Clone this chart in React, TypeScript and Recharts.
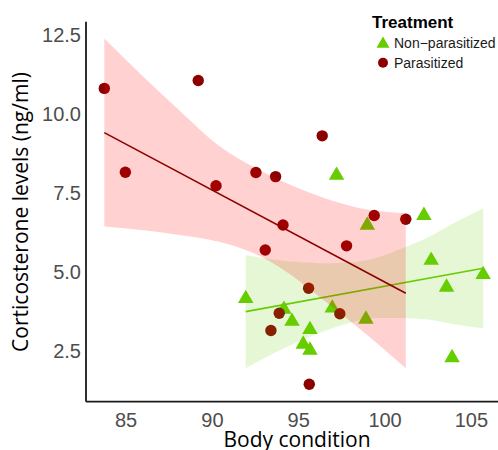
import { ComposedChart, XAxis, YAxis, Scatter, Area, Line } from 'recharts';

const xTicks = [85, 90, 95, 100, 105];
const yTicks = [2.5, 5, 7.5, 10, 12.5];

// points
const parasitizedX = [83.74, 84.96, 89.18, 90.21, 92.52, 93.66, 96.36, 94.09, 93.06, 97.77, 99.37, 101.2, 95.57, 93.87, 97.38, 93.39, 95.61];
const parasitizedY = [10.81, 8.16, 11.06, 7.73, 8.15, 8.02, 9.31, 6.49, 5.7, 5.83, 6.79, 6.67, 4.49, 3.7, 3.68, 3.15, 1.45];
const nonParX = [91.93, 94.14, 94.61, 95.65, 95.26, 95.65, 96.94, 97.19, 98.97, 98.89, 102.25, 102.67, 103.56, 105.68, 103.88];
const nonParY = [4.16, 3.82, 3.44, 3.18, 2.72, 2.53, 3.86, 8.06, 6.48, 3.51, 6.79, 5.37, 4.52, 4.92, 2.29];

// fitted lines (end points) and confidence bands
const parFitX = [83.74, 101.2];
const parFitY = [9.41, 4.33];
const nonFitX = [91.93, 105.68];
const nonFitY = [3.75, 5.12];

const parBandX = [83.74, 86, 88, 90.44, 92.37, 94.3, 96.23, 98.54, 101.2];
const parBandLo = [6.44, 6.32, 6.18, 5.95, 5.6, 5.0, 4.2, 3.2, 1.96];
const parBandHi = [12.39, 11.18, 10.16, 8.97, 8.33, 7.81, 7.39, 7.02, 6.86];
const nonBandX = [91.93, 93.5, 95, 96.5, 98, 99.5, 101, 102.5, 104, 105.68];
const nonBandLo = [1.96, 2.42, 2.8, 3.14, 3.4, 3.55, 3.55, 3.5, 3.35, 3.22];
const nonBandHi = [5.54, 5.4, 5.32, 5.28, 5.3, 5.45, 5.75, 6.1, 6.55, 7.02];

const RED = '#8B0000';
const GREEN = '#66CD00';

const toPoints = (xs: number[], ys: number[]) => xs.map((x, i) => ({ x, y: ys[i] }));
const toBand = (xs: number[], lo: number[], hi: number[]) =>
  xs.map((x, i) => ({ x, lo: lo[i], hi: hi[i] }));

const parasitized = toPoints(parasitizedX, parasitizedY);
const nonParasitized = toPoints(nonParX, nonParY);
const parFit = toPoints(parFitX, parFitY);
const nonFit = toPoints(nonFitX, nonFitY);
const parBand = toBand(parBandX, parBandLo, parBandHi);
const nonBand = toBand(nonBandX, nonBandLo, nonBandHi);

const SIDE = 15.5;
function trianglePath(cx: number, cy: number, side = SIDE) {
  const h = (side * Math.sqrt(3)) / 2;
  return `M${cx},${cy - (2 * h) / 3} L${cx + side / 2},${cy + h / 3} L${cx - side / 2},${cy + h / 3} Z`;
}

const Triangle = (props: any) => <path d={trianglePath(props.cx, props.cy)} fill={GREEN} />;
const Dot = (props: any) => <circle cx={props.cx} cy={props.cy} r={5.7} fill={RED} />;

const tickStyle = { fill: '#4D4D4D', fontSize: 20, fontFamily: '"Liberation Sans", Arial, sans-serif' };
const titleFont = '"Open Sans", sans-serif';
const legendFont = '"Liberation Sans", Arial, sans-serif';

export default function App() {
  return (
    <div style={{ position: 'absolute', left: 0, top: 0, width: 498, height: 450, background: '#fff' }}>
      <ComposedChart width={498} height={450} margin={{ top: 21.7, right: 0, bottom: 0, left: 0 }}>
        <XAxis
          dataKey="x"
          type="number"
          domain={[82.68, 106.54]}
          ticks={xTicks}
          allowDataOverflow
          height={48.3}
          tickLine={false}
          tickSize={0}
          tickMargin={11}
          tick={tickStyle}
          axisLine={{ stroke: '#1a1a1a', strokeWidth: 1.8 }}
        />
        <YAxis
          type="number"
          domain={[0.9, 12.92]}
          ticks={yTicks}
          allowDataOverflow
          width={86}
          tickLine={false}
          tickSize={0}
          tickMargin={5}
          tick={tickStyle}
          tickFormatter={(v: number) => v.toFixed(1)}
          axisLine={{ stroke: '#1a1a1a', strokeWidth: 1.8 }}
        />
        <Scatter data={nonParasitized} dataKey="y" shape={Triangle} isAnimationActive={false} zIndex={50} />
        <Scatter data={parasitized} dataKey="y" shape={Dot} isAnimationActive={false} zIndex={50} />
        <Area
          data={nonBand}
          dataKey={(d: any) => [d.lo, d.hi]}
          type="monotone"
          stroke="none"
          fill={GREEN}
          fillOpacity={0.16}
          dot={false}
          activeDot={false}
          isAnimationActive={false}
          zIndex={100}
        />
        <Line
          data={nonFit}
          dataKey="y"
          stroke={GREEN}
          strokeWidth={1.6}
          dot={false}
          activeDot={false}
          isAnimationActive={false}
          zIndex={110}
        />
        <Area
          data={parBand}
          dataKey={(d: any) => [d.lo, d.hi]}
          type="monotone"
          stroke="none"
          fill="#FF0000"
          fillOpacity={0.18}
          dot={false}
          activeDot={false}
          isAnimationActive={false}
          zIndex={120}
        />
        <Line
          data={parFit}
          dataKey="y"
          stroke={RED}
          strokeWidth={1.6}
          dot={false}
          activeDot={false}
          isAnimationActive={false}
          zIndex={130}
        />
      </ComposedChart>
      <svg width={498} height={450} style={{ position: 'absolute', left: 0, top: 0, pointerEvents: 'none' }}>
        <text x={372} y={28.3} fontFamily={legendFont} fontWeight="bold" fontSize={17} fill="#000">
          Treatment
        </text>
        <path d={trianglePath(383, 44, 13)} fill={GREEN} />
        <text x={394} y={48.3} fontFamily={legendFont} fontSize={14} fill="#1a1a1a">
          Non−parasitized
        </text>
        <circle cx={383} cy={62.7} r={5} fill={RED} />
        <text x={394} y={67.7} fontFamily={legendFont} fontSize={14} fill="#1a1a1a">
          Parasitized
        </text>
        <text x={297} y={447} textAnchor="middle" fontFamily={titleFont} fontSize={21} fill="#000">
          Body condition
        </text>
        <text transform="translate(27.5 212) rotate(-90)" textAnchor="middle" fontFamily={titleFont} fontSize={21} fill="#000">
          Corticosterone levels (ng/ml)
        </text>
      </svg>
    </div>
  );
}
